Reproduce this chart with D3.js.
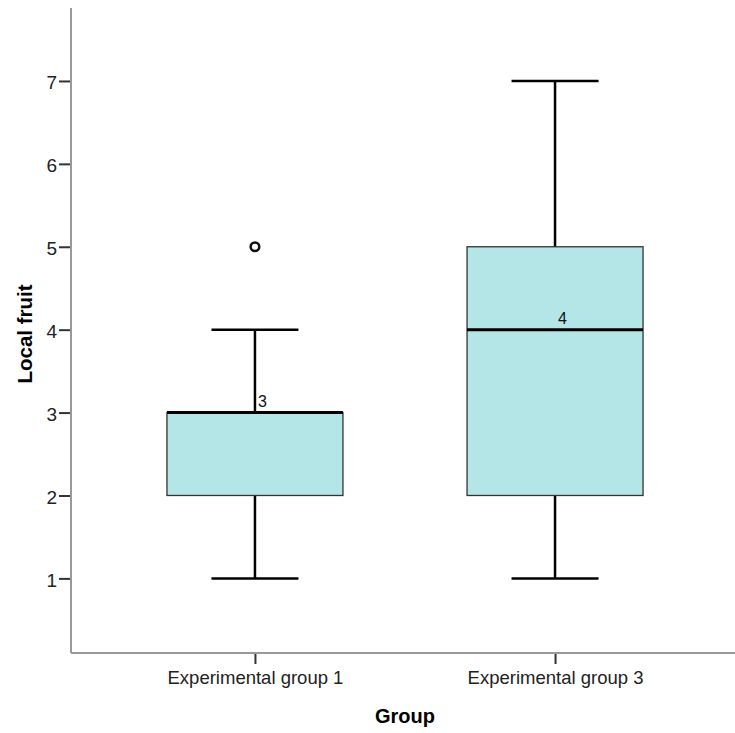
<!DOCTYPE html>
<html>
<head>
<meta charset="utf-8">
<script src="https://cdn.jsdelivr.net/npm/d3@7"></script>
<style>
  html, body { margin: 0; padding: 0; background: #fff; }
  svg { display: block; }
  text { font-family: "Liberation Sans", Arial, sans-serif; }
</style>
</head>
<body>
<svg id="chart" width="735" height="733"></svg>
<script>
// Boxplot summaries per group
const groups = ["Experimental group 1", "Experimental group 3"];
const whiskerLow = [1, 1];
const q1 = [2, 2];
const median = [3, 4];
const q3 = [3, 5];
const whiskerHigh = [4, 7];
const outliers = [[5], []];
const yTicks = [1, 2, 3, 4, 5, 6, 7];

const svg = d3.select("#chart");
const W = 735, H = 733;
const plotLeft = 71, plotBottom = 653, plotTop = 8;

const y = d3.scaleLinear().domain([0.1, 7.88]).range([plotBottom, plotTop]);
const x = d3.scalePoint().domain(groups).range([plotLeft, 739]).padding(0.613);
const boxW = 176, capW = 87;

// axes
const yAxis = svg.append("g").attr("transform", `translate(${plotLeft},0)`)
  .call(d3.axisLeft(y).tickValues(yTicks).tickSize(12).tickPadding(2).tickFormat(d3.format("d")));
yAxis.select(".domain").remove();
yAxis.selectAll(".tick line").attr("stroke", "#333").attr("stroke-width", 2);
yAxis.selectAll(".tick text").attr("font-size", 19).attr("dy", "0.42em").attr("fill", "#222");
svg.append("line").attr("x1", plotLeft).attr("x2", plotLeft).attr("y1", plotTop).attr("y2", plotBottom)
  .attr("stroke", "#999").attr("stroke-width", 2);

const xAxis = svg.append("g").attr("transform", `translate(0,${plotBottom})`)
  .call(d3.axisBottom(x).tickSize(11).tickPadding(7));
xAxis.select(".domain").remove();
xAxis.selectAll(".tick line").attr("stroke", "#333").attr("stroke-width", 2);
xAxis.selectAll(".tick text").attr("font-size", 18.5).attr("fill", "#222");
svg.append("line").attr("x1", plotLeft).attr("x2", W).attr("y1", plotBottom).attr("y2", plotBottom)
  .attr("stroke", "#999").attr("stroke-width", 2);

// boxes
groups.forEach((g, i) => {
  const cx = x(g);
  const gg = svg.append("g");
  // whiskers
  gg.append("line").attr("x1", cx).attr("x2", cx).attr("y1", y(whiskerLow[i])).attr("y2", y(q1[i]))
    .attr("stroke", "#000").attr("stroke-width", 2.5);
  gg.append("line").attr("x1", cx).attr("x2", cx).attr("y1", y(q3[i])).attr("y2", y(whiskerHigh[i]))
    .attr("stroke", "#000").attr("stroke-width", 2.5);
  gg.append("line").attr("x1", cx - capW / 2).attr("x2", cx + capW / 2)
    .attr("y1", y(whiskerLow[i])).attr("y2", y(whiskerLow[i])).attr("stroke", "#000").attr("stroke-width", 2.5);
  gg.append("line").attr("x1", cx - capW / 2).attr("x2", cx + capW / 2)
    .attr("y1", y(whiskerHigh[i])).attr("y2", y(whiskerHigh[i])).attr("stroke", "#000").attr("stroke-width", 2.5);
  // box
  gg.append("rect").attr("x", cx - boxW / 2).attr("y", y(q3[i]))
    .attr("width", boxW).attr("height", y(q1[i]) - y(q3[i]))
    .attr("fill", "#b4e6e8").attr("stroke", "#333").attr("stroke-width", 1.3);
  // median
  gg.append("line").attr("x1", cx - boxW / 2).attr("x2", cx + boxW / 2)
    .attr("y1", y(median[i])).attr("y2", y(median[i])).attr("stroke", "#000").attr("stroke-width", 3);
  gg.append("text").attr("x", cx + 3).attr("y", y(median[i]) - 6)
    .attr("font-size", 16).attr("fill", "#111").text(median[i]);
  // outliers
  outliers[i].forEach(v => {
    gg.append("circle").attr("cx", cx).attr("cy", y(v)).attr("r", 4.3)
      .attr("fill", "none").attr("stroke", "#111").attr("stroke-width", 2.5);
  });
});

// axis titles
svg.append("text").attr("x", 405).attr("y", 723).attr("text-anchor", "middle")
  .attr("font-size", 20).attr("font-weight", "bold").attr("fill", "#000").text("Group");
svg.append("text").attr("transform", "translate(32,334) rotate(-90)").attr("text-anchor", "middle")
  .attr("font-size", 20.5).attr("font-weight", "bold").attr("fill", "#000").text("Local fruit");
</script>
</body>
</html>
